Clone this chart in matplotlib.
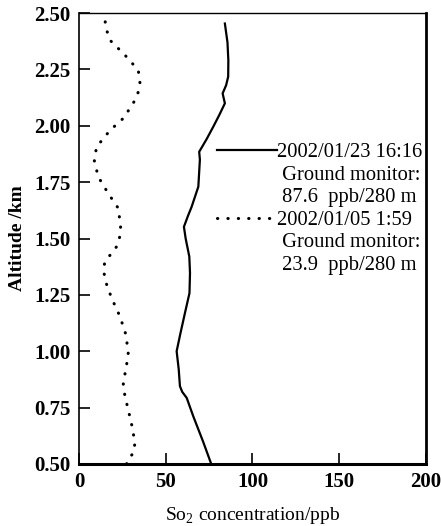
import matplotlib
matplotlib.use("Agg")
import matplotlib.pyplot as plt
from matplotlib.lines import Line2D

plt.rcParams["font.family"] = ["Liberation Serif", "DejaVu Serif"]
plt.rcParams["mathtext.fontset"] = "custom"
plt.rcParams["mathtext.rm"] = "Liberation Serif"

# profile 2002/01/23 16:16 (solid)
alt_a = [0.507, 0.60, 0.711, 0.793, 0.82, 0.845, 0.92, 1.00, 1.08, 1.17, 1.258,
         1.347, 1.42, 1.50, 1.552, 1.60, 1.64, 1.73, 1.85, 1.885, 1.94, 1.996,
         2.05, 2.10, 2.12, 2.144, 2.18, 2.218, 2.29, 2.37, 2.454]
conc_a = [75.9, 71.5, 65.9, 62.1, 59.5, 58.2, 57.5, 56.3, 58.5, 61.1, 63.7,
          64.0, 63.6, 61.5, 60.5, 62.8, 64.9, 68.8, 69.7, 69.3, 73.5, 77.4,
          81.0, 84.1, 83.5, 82.8, 84.8, 86.0, 86.1, 85.6, 84.1]

# profile 2002/01/05 1:59 (dotted)
alt_b = [0.50, 0.512, 0.549, 0.593, 0.67, 0.741, 0.80, 0.859, 0.93, 0.992,
         1.073, 1.155, 1.236, 1.30, 1.362, 1.397, 1.464, 1.51, 1.552, 1.634,
         1.70, 1.774, 1.848, 1.907, 1.98, 2.033, 2.10, 2.15, 2.188, 2.247,
         2.314, 2.38, 2.447, 2.50]
conc_b = [27.5, 27.8, 31.3, 32.3, 30.5, 28.4, 26.5, 25.5, 27.3, 28.4,
          27.1, 23.6, 18.8, 15.8, 14.0, 15.0, 21.7, 23.6, 24.0, 22.7,
          16.9, 11.1, 8.8, 10.2, 17.9, 25.5, 31.3, 34.2, 35.2, 34.2,
          26.5, 17.9, 15.0, 15.6]

labels_a = ["2002/01/23 16:16", " Ground monitor:", " 87.6  ppb/280 m"]
labels_b = ["2002/01/05 1:59", " Ground monitor:", " 23.9  ppb/280 m"]

fig = plt.figure(figsize=(4.41, 5.26), dpi=100)
ax = fig.add_axes([0.179, 0.118, 0.787, 0.857])

ax.plot(conc_a, alt_a, color="black", lw=1.6)
ax.plot(conc_b, alt_b, color="black", lw=2.2, linestyle=(0, (0.1, 3.3)),
        dash_capstyle="round")

ax.set_xlim(0, 200)
ax.set_ylim(0.5, 2.5)
ax.set_xticks([0, 50, 100, 150, 200])
ax.set_yticks([0.5, 0.75, 1.0, 1.25, 1.5, 1.75, 2.0, 2.25, 2.5])
ax.set_yticklabels(["0.50", "0.75", "1.00", "1.25", "1.50", "1.75", "2.00", "2.25", "2.50"])
ax.tick_params(direction="in", length=8, width=1.2, labelsize=15, pad=6)
for lab in ax.get_xticklabels() + ax.get_yticklabels():
    lab.set_fontweight("bold")

ax.spines["left"].set_linewidth(1.2)
ax.spines["bottom"].set_linewidth(2.2)
ax.spines["right"].set_linewidth(2.0)
ax.spines["top"].set_linewidth(1.0)

ax.set_ylabel("Altitude /km", fontsize=14, fontweight="bold", labelpad=6)
ax.set_xlabel("So$_2$ concentration/ppb", fontsize=14, labelpad=9)

blank = Line2D([], [], color="none")
handles = [Line2D([], [], color="black", lw=1.6), blank, blank,
           Line2D([], [], color="black", lw=2.2, linestyle=(0, (0.1, 3.3)),
                  dash_capstyle="round"), blank, blank]
ax.legend(handles, labels_a + labels_b, loc="upper left",
          bbox_to_anchor=(0.398, 0.712), frameon=False, fontsize=14.8,
          handlelength=2.9, handletextpad=0.0, labelspacing=0.15,
          borderpad=0, borderaxespad=0)

fig.savefig("out.png", dpi=100)
